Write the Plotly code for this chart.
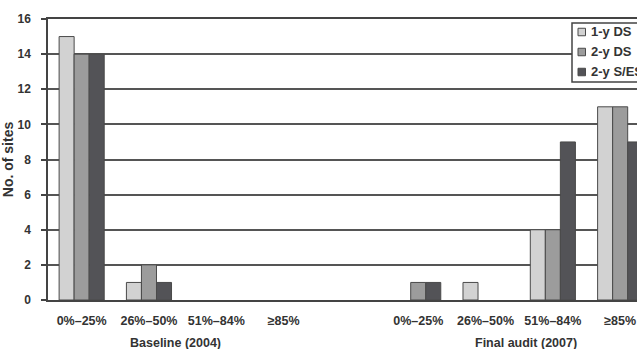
import plotly.graph_objects as go

series_names = ["1-y DS", "2-y DS", "2-y S/ES"]
tick_labels = ["0%–25%", "26%–50%", "51%–84%", "≥85%", "", "0%–25%", "26%–50%", "51%–84%", "≥85%"]
positions = [0, 1, 2, 3, 4, 5, 6, 7, 8]
one_y_ds = [15, 1, 0, 0, None, 0, 1, 4, 11]
two_y_ds = [14, 2, 0, 0, None, 1, 0, 4, 11]
two_y_ses = [14, 1, 0, 0, None, 1, 0, 9, 9]
group_titles = ["Baseline (2004)", "Final audit (2007)"]
group_title_pos = [1.4, 6.6]

colors = ["#d2d2d2", "#9c9c9c", "#535357"]
edge = "#4a4a4a"
txt = "#333333"
font_fam = "Liberation Sans, Arial, sans-serif"

# plot area in pixels: x 48..637, y 19..300
L, R, T, B = 48, 637, 19, 300
def px(x):
    return (x - L) / (R - L)
def py(y):
    return (B - y) / (B - T)

fig = go.Figure()
for name, vals, c in zip(series_names, [one_y_ds, two_y_ds, two_y_ses], colors):
    lw = [0 if (v is None or v == 0) else 1 for v in vals]
    fig.add_trace(go.Bar(x=positions, y=vals, name=name, showlegend=False,
                         marker=dict(color=c, line=dict(color=edge, width=lw))))

for t, p in zip(group_titles, group_title_pos):
    fig.add_annotation(x=p, y=0, xref="x", yref="paper", text=t, showarrow=False,
                       yanchor="middle", yshift=-(343 - B),
                       font=dict(size=12.5, color=txt, family=font_fam, weight="bold"))

# legend box (clipped at right edge like the reference)
fig.add_shape(type="rect", xref="paper", yref="paper", x0=px(572), x1=px(700), y0=py(82), y1=py(23),
              line=dict(color="#444", width=1.5), fillcolor="white", layer="above")
row_y = [32, 52, 72]
for name, c, ry in zip(series_names, colors, row_y):
    fig.add_shape(type="rect", xref="paper", yref="paper", x0=px(578), x1=px(585.5),
                  y0=py(ry + 3.75), y1=py(ry - 3.75), line=dict(color=edge, width=1), fillcolor=c, layer="above")
    fig.add_annotation(x=px(588.5), y=py(ry), xref="paper", yref="paper", text=name, showarrow=False,
                       xanchor="left", yanchor="middle",
                       font=dict(size=13, color=txt, family=font_fam, weight="bold"))

fig.update_layout(
    width=637, height=349,
    margin=dict(l=L, r=0, t=T, b=349 - B, autoexpand=False),
    plot_bgcolor="white", paper_bgcolor="white",
    barmode="group", bargap=0.33, bargroupgap=0,
    showlegend=False,
    font=dict(family=font_fam, size=12, color=txt, weight="bold"),
    xaxis=dict(range=[-0.5, 8.25], tickvals=positions, ticktext=tick_labels,
               showgrid=False, showline=True, linecolor="#444", linewidth=1.5, mirror=True,
               ticks="", ticklabelstandoff=8, zeroline=False,
               tickfont=dict(size=12.5, color=txt, family=font_fam, weight="bold")),
    yaxis=dict(range=[0, 16], dtick=2, showgrid=True, gridcolor="#555", gridwidth=1.5,
               showline=True, linecolor="#444", linewidth=1.5, mirror=True,
               ticks="outside", ticklen=5, tickcolor="#444", tickwidth=1.5,
               ticklabelstandoff=8, zeroline=False,
               title=dict(text="No. of sites", standoff=8,
                          font=dict(size=14, color=txt, family=font_fam, weight="bold")),
               tickfont=dict(size=12, color=txt, family=font_fam, weight="bold")),
)

fig.write_html("out.html")
